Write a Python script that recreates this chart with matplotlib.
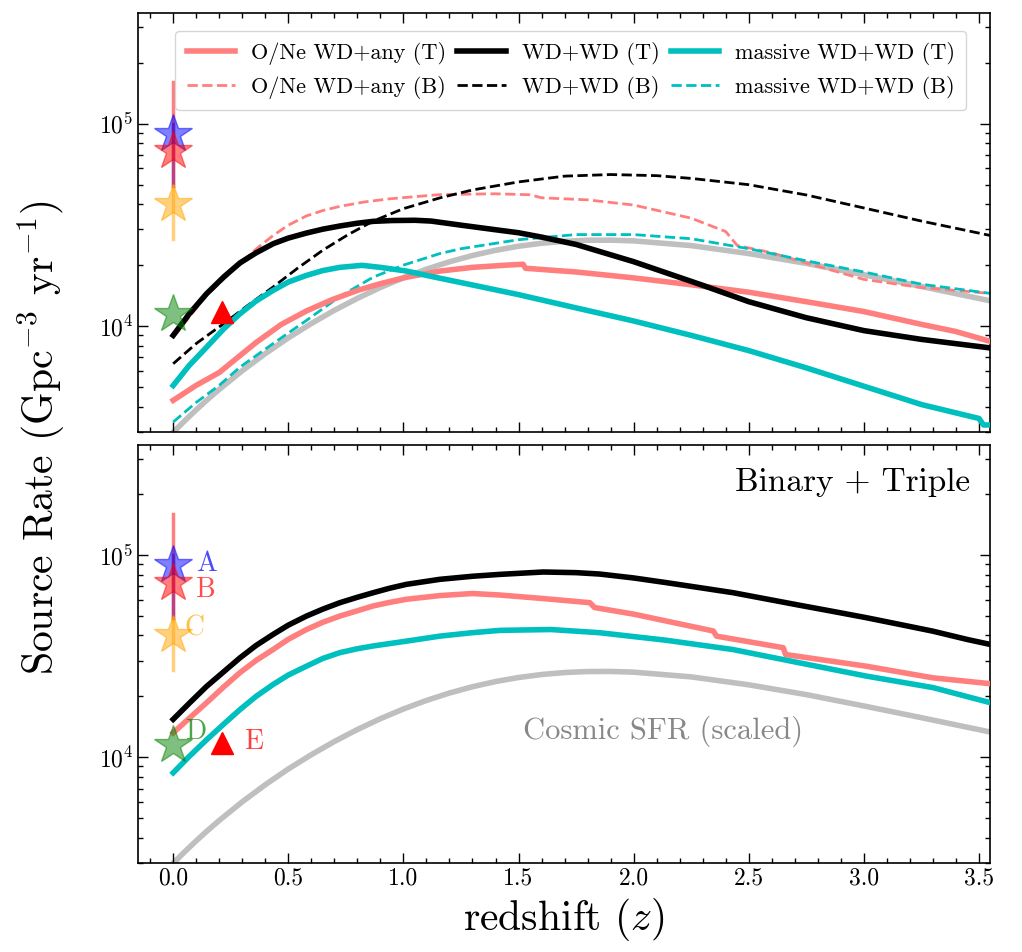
import numpy as np
import matplotlib
matplotlib.use("Agg")
import matplotlib.pyplot as plt

plt.rcParams['font.family'] = 'serif'
plt.rcParams['font.serif'] = ['cmr10', 'DejaVu Serif']
plt.rcParams['mathtext.fontset'] = 'cm'
plt.rcParams['axes.unicode_minus'] = False
plt.rcParams['axes.formatter.use_mathtext'] = True

# ---------------- data ----------------
# Cosmic SFR (scaled), same in both panels
z_sfr = [0.0, 0.05, 0.1, 0.15, 0.2, 0.3, 0.4, 0.5, 0.6, 0.7, 0.8, 0.9, 1.0, 1.1, 1.2, 1.3, 1.4, 1.5, 1.6, 1.7,
         1.8, 1.9, 2.0, 2.25, 2.5, 2.75, 3.0, 3.25, 3.55]
sfr = [2990, 3409, 3861, 4348, 4870, 6021, 7313, 8750, 10296, 11961, 13709, 15510, 17320, 19090, 20776, 22317,
       23670, 24790, 25648, 26232, 26535, 26562, 26350, 24970, 22810, 20400, 17930, 15690, 13320]

# Top panel: triple (T)
z_one_T = [0.0, 0.1, 0.2, 0.28, 0.36, 0.47, 0.58, 0.69, 0.80, 0.9, 1.01, 1.16, 1.3, 1.45, 1.52, 1.53, 1.75, 2.0,
           2.25, 2.5, 2.75, 3.0, 3.25, 3.4, 3.55]
one_T = [4300, 5100, 5900, 7000, 8300, 10200, 11900, 13500, 15000, 16200, 17400, 18700, 19500, 20000, 20200,
         19300, 18500, 17300, 16000, 14700, 13200, 11800, 10200, 9400, 8400]

z_wd_T = [0.0, 0.07, 0.145, 0.22, 0.29, 0.36, 0.434, 0.5, 0.579, 0.65, 0.724, 0.8, 0.869, 0.95, 1.05, 1.12,
          1.25, 1.4, 1.5, 1.6, 1.75, 2.0, 2.3, 2.5, 2.75, 3.0, 3.25, 3.55]
wd_T = [9000, 11500, 14450, 17500, 20500, 23000, 25500, 27200, 28800, 30100, 31200, 32200, 32900, 33200, 33300,
        33000, 31500, 29900, 28900, 27500, 25300, 20800, 15900, 13200, 11000, 9500, 8600, 7800]

z_mwd_T = [0.0, 0.07, 0.145, 0.22, 0.29, 0.36, 0.434, 0.5, 0.579, 0.65, 0.724, 0.82, 0.9, 1.013, 1.12, 1.25,
           1.5, 1.75, 2.0, 2.25, 2.5, 2.75, 3.0, 3.25, 3.5, 3.52, 3.55]
mwd_T = [5090, 6400, 7870, 9700, 11500, 13300, 15000, 16500, 17800, 18800, 19500, 19950, 19500, 18700, 17600,
         16400, 14300, 12300, 10600, 9000, 7570, 6220, 5050, 4100, 3500, 3250, 3250]

# Top panel: binary (B)
z_one_B = [0.0, 0.145, 0.29, 0.36, 0.434, 0.5, 0.579, 0.65, 0.724, 0.83, 0.94, 1.16, 1.4, 1.55, 1.6, 1.8, 2.0,
           2.25, 2.4, 2.45, 2.6, 2.75, 3.0, 3.25, 3.55]
one_B = [8800, 14200, 20300, 24000, 28000, 31500, 35000, 37200, 39000, 41000, 42500, 44600, 45000, 44500, 43000,
         42000, 39600, 34100, 29300, 25000, 23000, 20500, 17000, 15500, 14500]

z_wd_B = [0.0, 0.1, 0.22, 0.33, 0.434, 0.54, 0.65, 0.76, 0.869, 1.0, 1.16, 1.3, 1.5, 1.7, 1.9, 2.1, 2.25, 2.5,
          2.75, 3.0, 3.25, 3.55]
wd_B = [6520, 8200, 10300, 12800, 15600, 19300, 23700, 28300, 33000, 38000, 43000, 47000, 51500, 55000, 56000,
        55300, 53600, 49900, 44400, 38300, 33000, 28000]

z_mwd_B = [0.0, 0.1, 0.2, 0.29, 0.434, 0.579, 0.724, 0.869, 1.0, 1.158, 1.25, 1.5, 1.75, 2.0, 2.25, 2.5, 2.75,
           3.0, 3.25, 3.55]
mwd_B = [3360, 4200, 5100, 6270, 8200, 10670, 14000, 17450, 20000, 22800, 24100, 26700, 28300, 28300, 27000,
         24100, 21000, 18500, 16100, 14500]

# Bottom panel: binary + triple
z_one_BT = [0.0, 0.07, 0.145, 0.22, 0.29, 0.36, 0.434, 0.5, 0.579, 0.65, 0.724, 0.8, 0.869, 0.94, 1.013, 1.158,
            1.3, 1.419, 1.6, 1.81, 1.83, 2.0, 2.346, 2.36, 2.65, 2.66, 3.01, 3.3, 3.55]
one_BT = [13200, 15600, 18600, 22300, 26200, 30100, 34100, 38300, 42800, 46500, 49900, 53000, 56000, 58300,
          60400, 63000, 64500, 63400, 61000, 58100, 55000, 51000, 42100, 39700, 34800, 32200, 28200, 24700, 23100]

z_wd_BT = [0.0, 0.07, 0.145, 0.22, 0.29, 0.36, 0.434, 0.5, 0.579, 0.65, 0.724, 0.8, 0.869, 0.94, 1.013, 1.158,
           1.3, 1.419, 1.607, 1.75, 1.853, 2.0, 2.142, 2.3, 2.432, 2.58, 2.722, 2.87, 3.01, 3.15, 3.30, 3.45, 3.55]
wd_BT = [15400, 18500, 22400, 26500, 31000, 35700, 40500, 45000, 49900, 54000, 58100, 61800, 65100, 68500, 71600,
         75800, 78500, 80200, 82400, 81800, 80500, 77000, 73000, 68600, 65100, 60500, 56400, 52500, 49000, 45500,
         42000, 38200, 36100]

z_mwd_BT = [0.0, 0.07, 0.145, 0.22, 0.29, 0.36, 0.434, 0.5, 0.579, 0.65, 0.724, 0.8, 0.869, 1.013, 1.158, 1.3,
            1.42, 1.64, 1.85, 2.14, 2.43, 2.72, 3.01, 3.30, 3.55]
mwd_BT = [8380, 10100, 12200, 14600, 17200, 20000, 22900, 25500, 28200, 30800, 32900, 34400, 35500, 37500, 39700,
          41300, 42400, 42800, 41300, 37900, 34100, 29300, 25200, 22100, 18600]

# Observations
obs_labels = ['A', 'B', 'C', 'D']
obs_rate = [89000, 73000, 40000, 11500]
obs_lo = [49000, 49000, 27000, 11500]
obs_hi = [100000, 160000, 49000, 11500]
obs_colors = ['blue', 'red', 'orange', 'green']
tri_z = 0.21
tri_rate = 11700

C_ONE = '#ff7f7f'
C_WD = 'black'
C_MWD = '#00bfbf'
C_SFR = '#bfbfbf'

fig = plt.figure(figsize=(10.22, 9.52), dpi=100)
ax1 = fig.add_axes([0.135, 0.5462, 0.8337, 0.4398])
ax2 = fig.add_axes([0.135, 0.0935, 0.8337, 0.4391], sharex=ax1)

def draw_obs(ax, labels):
    for i in range(len(obs_rate)):
        ax.plot([0, 0], [obs_lo[i], obs_hi[i]], color=obs_colors[i], alpha=0.5, lw=2.5, zorder=5)
    for i in range(len(obs_rate)):
        ax.plot(0, obs_rate[i], marker='*', ms=29, color=obs_colors[i], alpha=0.5,
                mec=obs_colors[i], zorder=6, ls='none')
    ax.plot(tri_z, tri_rate, marker='^', ms=16, color='red', ls='none', zorder=6)
    if labels:
        offs = [(0.1, 1.02), (0.1, 0.92), (0.05, 1.08), (0.05, 1.16)]
        for i, lab in enumerate(obs_labels):
            ax.text(offs[i][0], obs_rate[i] * offs[i][1], lab, color=obs_colors[i],
                    fontsize=20, ha='left', va='center', alpha=0.7)
        ax.text(0.31, 11900, 'E', color='red', fontsize=20, ha='left', va='center', alpha=0.75)

# top panel
ax1.plot(z_sfr, sfr, color=C_SFR, lw=4, zorder=1)
ax1.plot(z_one_T, one_T, color=C_ONE, lw=4, label='O/Ne WD+any (T)', zorder=3)
ax1.plot(z_wd_T, wd_T, color=C_WD, lw=4, label='WD+WD (T)', zorder=3)
ax1.plot(z_mwd_T, mwd_T, color=C_MWD, lw=4, label='massive WD+WD (T)', zorder=3)
ax1.plot(z_one_B, one_B, color=C_ONE, lw=2, ls='--', label='O/Ne WD+any (B)', zorder=2)
ax1.plot(z_wd_B, wd_B, color=C_WD, lw=2, ls='--', label='WD+WD (B)', zorder=2)
ax1.plot(z_mwd_B, mwd_B, color=C_MWD, lw=2, ls='--', label='massive WD+WD (B)', zorder=2)
draw_obs(ax1, False)

h, l = ax1.get_legend_handles_labels()
order = [0, 3, 1, 4, 2, 5]
ax1.legend([h[i] for i in order], [l[i] for i in order], ncol=3, loc='upper right',
           fontsize=16, handlelength=2.2, columnspacing=0.5, handletextpad=0.7,
           borderpad=0.5, labelspacing=0.5, bbox_to_anchor=(0.985, 0.985))

# bottom panel
ax2.plot(z_sfr, sfr, color=C_SFR, lw=4, zorder=1)
ax2.plot(z_one_BT, one_BT, color=C_ONE, lw=4, zorder=3)
ax2.plot(z_wd_BT, wd_BT, color=C_WD, lw=4, zorder=3)
ax2.plot(z_mwd_BT, mwd_BT, color=C_MWD, lw=4, zorder=3)
draw_obs(ax2, True)
ax2.text(0.977, 0.945, 'Binary + Triple', transform=ax2.transAxes, ha='right', va='top', fontsize=24)
ax2.text(1.52, 13500, 'Cosmic SFR (scaled)', color='#888888', fontsize=22, ha='left', va='center')

for ax in (ax1, ax2):
    ax.set_yscale('log')
    ax.set_ylim(3000, 3.5e5)
    ax.set_xlim(-0.153, 3.548)
    ax.tick_params(which='both', direction='in', top=True, right=True, labelsize=17)
    ax.tick_params(which='major', length=7, width=1)
    ax.tick_params(which='minor', length=3.5, width=1)
    ax.set_xticks(np.arange(0, 3.51, 0.5))
    ax.set_xticks(np.arange(-0.1, 3.55, 0.1), minor=True)
    for s in ax.spines.values():
        s.set_linewidth(1.2)

ax1.tick_params(labelbottom=False)
ax2.xaxis.set_major_formatter(matplotlib.ticker.FormatStrFormatter('%.1f'))
ax2.set_xlabel('redshift ($z$)', fontsize=30)
fig.text(0.04, 0.54, 'Source Rate (Gpc$^{-3}$ yr$^{-1}$)', rotation=90, fontsize=30,
         ha='center', va='center')

fig.savefig('out.png', dpi=100)
